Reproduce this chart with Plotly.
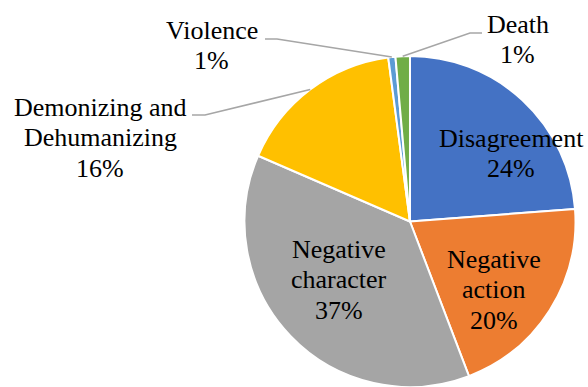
import math
import plotly.graph_objects as go

# ---- data ----
categories = ["Disagreement", "Negative action", "Negative character",
              "Demonizing and Dehumanizing", "Violence", "Death"]
values = [23.8, 20.4, 37.3, 16.4, 0.7, 1.4]
colors = ["#4472C4", "#ED7D31", "#A5A5A5", "#FFC000", "#5B9BD5", "#70AD47"]
# how each label is wrapped onto lines
wrapped = {
    "Disagreement": ["Disagreement"],
    "Negative action": ["Negative", "action"],
    "Negative character": ["Negative", "character"],
    "Demonizing and Dehumanizing": ["Demonizing and", "Dehumanizing"],
    "Violence": ["Violence"],
    "Death": ["Death"],
}

W, H = 588, 387
total = sum(values)
pct = [f"{round(v / total * 100)}%" for v in values]

# pie domain (paper fractions)
dom_x = [0.4158, 0.9787]
dom_y = [0.0, 0.8553]
cx = (dom_x[0] + dom_x[1]) / 2 * W
cy = H - (dom_y[0] + dom_y[1]) / 2 * H
R = min((dom_x[1] - dom_x[0]) * W, (dom_y[1] - dom_y[0]) * H) / 2


def px(x, y):
    return x / W, 1 - y / H


fig = go.Figure(go.Pie(
    labels=categories, values=values, sort=False, direction="clockwise",
    rotation=0, marker=dict(colors=colors, line=dict(color="white", width=2)),
    textinfo="none", hoverinfo="label+percent", domain=dict(x=dom_x, y=dom_y),
    showlegend=False,
))

# label anchor positions (pixel centres of line 1)
label_pos = {
    "Disagreement": (511, 138.2),
    "Negative action": (494, 259.2),
    "Negative character": (339, 249.2),
    "Demonizing and Dehumanizing": (100, 107.2),
    "Violence": (211.5, 30.2),
    "Death": (517.5, 24.2),
}
line_gap = 30.5
font = dict(family="Liberation Serif, Times New Roman, serif",
            size=26, color="black")

annotations = []
for cat, p in zip(categories, pct):
    lx, ly = label_pos[cat]
    lines = wrapped[cat] + [p]
    for i, t in enumerate(lines):
        x, y = px(lx, ly + i * line_gap)
        annotations.append(dict(x=x, y=y, xref="paper", yref="paper", text=t,
                                showarrow=False, font=font,
                                xanchor="center", yanchor="middle"))

# leader lines for outside labels: (start at label, elbow)
leaders = {
    "Demonizing and Dehumanizing": ((192, 115), (205, 115)),
    "Violence": ((265, 39), (277, 39)),
    "Death": ((482, 33), (470, 33)),
}
shapes = []
cum = 0.0
for cat, v in zip(categories, values):
    mid = (cum + v / 2) / total * 2 * math.pi
    cum += v
    if cat in leaders:
        ex = cx + R * math.sin(mid)
        ey = cy - R * math.cos(mid)
        (sx, sy), (bx, by) = leaders[cat]
        pts = [(sx, sy), (bx, by), (ex, ey)]
        path = "M " + " L ".join(f"{px(a, b)[0]},{px(a, b)[1]}" for a, b in pts)
        shapes.append(dict(type="path", path=path, xref="paper", yref="paper",
                           line=dict(color="#A6A6A6", width=1.5)))

fig.update_layout(
    width=W, height=H, margin=dict(l=0, r=0, t=0, b=0),
    paper_bgcolor="white", plot_bgcolor="white",
    font=font,
    annotations=annotations, shapes=shapes,
)
fig.write_html("out.html")
